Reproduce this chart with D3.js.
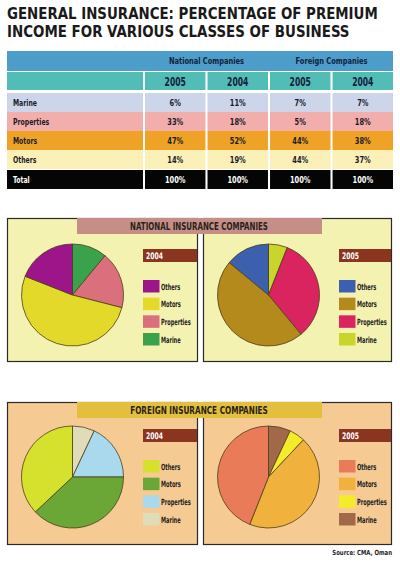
<!DOCTYPE html>
<html><head><meta charset="utf-8">
<script src="https://cdn.jsdelivr.net/npm/d3@7"></script>
<style>body{margin:0;background:#fff}svg{display:block}</style>
</head><body><svg id="c" width="400" height="561"></svg>
<script>
// ---- data ----
const categories = ["Marine", "Properties", "Motors", "Others"];
const yearLabels = ["2005", "2004", "2005", "2004"];
const groupLabels = ["National Companies", "Foreign Companies"];
const national2005 = [6, 33, 47, 14];
const national2004 = [11, 18, 52, 19];
const foreign2005 = [7, 5, 44, 44];
const foreign2004 = [7, 18, 38, 37];
const totals = [100, 100, 100, 100];
const legendOrder = ["Others", "Motors", "Properties", "Marine"];
const titleLines = ["GENERAL INSURANCE: PERCENTAGE OF PREMIUM", "INCOME FOR VARIOUS CLASSES OF BUSINESS"];
const bannerLabels = ["NATIONAL INSURANCE COMPANIES", "FOREIGN INSURANCE COMPANIES"];
const sourceText = "Source: CMA, Oman";

// ---- drawing ----
const F = "'Liberation Sans Narrow','DejaVu Sans Condensed','Arial Narrow',sans-serif";
const svg = d3.select("#c");
// horizontally compress a text by factor k (or to a target width) with a transform
function condense(sel, k, target) {
  sel.each(function () {
    const t = d3.select(this);
    const x0 = +t.attr("x"), y0 = +t.attr("y");
    const kk = target ? target / this.getComputedTextLength() : k;
    t.attr("x", 0).attr("y", 0).attr("transform", `translate(${x0},${y0}) scale(${kk},1)`);
  });
  return sel;
}

// title
svg.selectAll("text.title").data(titleLines).join("text")
  .attr("x", 7).attr("y", (d, i) => 19 + i * 17.5)
  .style("font-family", F).style("font-weight", "bold").style("font-size", "15px")
  .attr("fill", "#1a1a1a").text(d => d)
  .each(function (d, i) { condense(d3.select(this), 1, i === 0 ? 371 : 343); });

// table
const tableColumns = [national2005, national2004, foreign2005, foreign2004];
const x = d3.scaleBand().domain(d3.range(4)).range([145, 393]).paddingInner(0.033);
const rowKeys = categories.concat(["Total"]);
const rowTops = [93, 112, 131, 150, 170];
const rowH = 19;
const rowFill = {Marine: "#ccd5ea", Properties: "#f1aeab", Motors: "#efa326", Others: "#faf0b8", Total: "#050505"};

// header rows
svg.append("rect").attr("x", 7).attr("y", 51).attr("width", 386).attr("height", 20).attr("fill", "#4c9dc9");
condense(svg.selectAll("text.grp").data(groupLabels).join("text")
  .attr("x", (d, i) => (x(i * 2) + x(i * 2 + 1) + x.bandwidth()) / 2).attr("y", 64)
  .attr("text-anchor", "middle").style("font-family", F).style("font-weight", "bold").style("font-size", "9.5px")
  .attr("fill", "#14213d").text(d => d), 0.78);
svg.append("rect").attr("x", 7).attr("y", 72).attr("width", 136).attr("height", 18).attr("fill", "#52bdb6");
svg.selectAll("rect.yr").data(yearLabels).join("rect")
  .attr("x", (d, i) => x(i)).attr("y", 72).attr("width", x.bandwidth()).attr("height", 18).attr("fill", "#52bdb6");
condense(svg.selectAll("text.yr").data(yearLabels).join("text")
  .attr("x", (d, i) => x(i) + x.bandwidth() / 2).attr("y", 85.5).attr("text-anchor", "middle")
  .style("font-family", F).style("font-weight", "bold").style("font-size", "11.5px").attr("fill", "#15203a").text(d => d), 0.74);

rowKeys.forEach((key, r) => {
  const y0 = rowTops[r];
  const fill = rowFill[key];
  const tc = key === "Total" ? "#fff" : "#1b1b2a";
  svg.append("rect").attr("x", 7).attr("y", y0).attr("width", 136).attr("height", rowH).attr("fill", fill);
  condense(svg.append("text").attr("x", 13).attr("y", y0 + 13).style("font-family", F).style("font-weight", "bold")
    .style("font-size", "9.5px").attr("fill", tc).text(key), 0.72);
  const vals = key === "Total" ? totals : tableColumns.map(c => c[r]);
  vals.forEach((v, c) => {
    svg.append("rect").attr("x", x(c)).attr("y", y0).attr("width", x.bandwidth()).attr("height", rowH).attr("fill", fill);
    condense(svg.append("text").attr("x", x(c) + x.bandwidth() / 2).attr("y", y0 + 13).attr("text-anchor", "middle")
      .style("font-family", F).style("font-weight", "bold").style("font-size", "9.5px").attr("fill", tc).text(v + "%"), 0.78);
  });
});

// pie panels
const panelRows = [
  {top: 218, h: 144, bg: "#f4f2b0", banner: "#c58f87", barY: 249, pieCY: 295, swY: 280, label: bannerLabels[0]},
  {top: 402, h: 143, bg: "#f5ca93", banner: "#e2c03d", barY: 429, pieCY: 477, swY: 460, label: bannerLabels[1]}
];
const panels = [
  {row: 0, x: 7, w: 191, year: "2004", data: national2004, colors: ["#3aa24a", "#d9707c", "#e3d92b", "#9c1589"]},
  {row: 0, x: 203, w: 189, year: "2005", data: national2005, colors: ["#c9d52c", "#d9245f", "#b58a1d", "#3d60ae"]},
  {row: 1, x: 7, w: 191, year: "2004", data: foreign2004, colors: ["#e0dbb9", "#a9d9ec", "#6aa737", "#d5e12d"]},
  {row: 1, x: 203, w: 189, year: "2005", data: foreign2005, colors: ["#a1694a", "#f4ec2b", "#f0b23d", "#ea7b59"]}
];
const pie = d3.pie().sort(null).value(d => d.v);
const arc = d3.arc().innerRadius(0).outerRadius(51);

panels.forEach(p => {
  const R = panelRows[p.row];
  svg.append("rect").attr("x", p.x + 0.5).attr("y", R.top + 0.5).attr("width", p.w - 1).attr("height", R.h - 1)
    .attr("fill", R.bg).attr("stroke", "#2a2a2a").attr("stroke-width", 1.2);
  const color = d3.scaleOrdinal().domain(categories).range(p.colors);
  const slices = pie(categories.map((c, i) => ({c, v: p.data[i]})));
  const g = svg.append("g").attr("transform", `translate(${p.x + 65.5},${R.pieCY})`);
  g.selectAll("path").data(slices).join("path").attr("d", arc)
    .attr("fill", d => color(d.data.c)).attr("stroke", "#4d3f1c").attr("stroke-width", 0.8);
  // year bar
  const bx = p.x + 136;
  svg.append("rect").attr("x", bx).attr("y", R.barY).attr("width", p.x + p.w - 1 - bx).attr("height", 13).attr("fill", "#8a3520");
  condense(svg.append("text").attr("x", bx + 3).attr("y", R.barY + 10).style("font-family", F).style("font-weight", "bold")
    .style("font-size", "9px").attr("fill", "#fff").text(p.year), 0.75);
  // legend
  const ly = d3.scalePoint().domain(legendOrder).range([R.swY, R.swY + 53]);
  legendOrder.forEach(c => {
    svg.append("rect").attr("x", bx).attr("y", ly(c)).attr("width", 16.5).attr("height", 12.5).attr("fill", color(c));
    condense(svg.append("text").attr("x", bx + 18).attr("y", ly(c) + 9.5).style("font-family", F).style("font-weight", "bold")
      .style("font-size", "8.5px").attr("fill", "#222").text(c), 0.66);
  });
});

// banners
panelRows.forEach(R => {
  svg.append("rect").attr("x", 77).attr("y", R.top).attr("width", 245).attr("height", 16).attr("fill", R.banner);
  condense(svg.append("text").attr("x", 199).attr("y", R.top + 12).attr("text-anchor", "middle")
    .style("font-family", F).style("font-weight", "bold").style("font-size", "10.5px").attr("fill", "#2a1f1a").text(R.label), 1, 138);
});

// source
condense(svg.append("text").attr("x", 392).attr("y", 555).attr("text-anchor", "end")
  .style("font-family", F).style("font-weight", "bold").style("font-size", "7px").attr("fill", "#222").text(sourceText), 0.85);
</script>
</body></html>
